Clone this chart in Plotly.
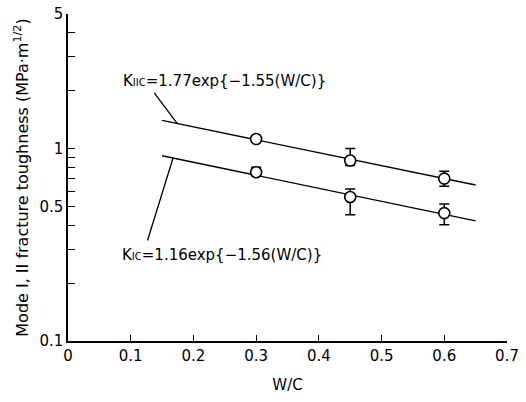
import plotly.graph_objects as go

# data
wc = [0.3, 0.45, 0.6]
k2c = [1.12, 0.866, 0.698]
k2c_plus = [0.0, 0.134, 0.064]
k2c_minus = [0.0, 0.05, 0.062]
k1c = [0.753, 0.560, 0.462]
k1c_plus = [0.047, 0.057, 0.053]
k1c_minus = [0.0, 0.107, 0.060]

fit_x = [0.15, 0.65]
fit_k2c = [1.40, 0.646]
fit_k1c = [0.917, 0.421]

x_ticks = [0, 0.1, 0.2, 0.3, 0.4, 0.5, 0.6, 0.7]
x_labels = ["0", "0.1", "0.2", "0.3", "0.4", "0.5", "0.6", "0.7"]
y_ticks = [0.1, 0.2, 0.3, 0.4, 0.5, 0.6, 0.7, 0.8, 0.9, 1, 2, 3, 4, 5]
y_labels = ["0.1", "", "", "", "0.5", "", "", "", "", "1", "", "", "", "5"]

FONT = "DejaVu Sans"
FS = 15

fig = go.Figure()
fig.add_trace(go.Scatter(x=fit_x, y=fit_k2c, mode="lines",
                         line=dict(color="black", width=1.4), showlegend=False))
fig.add_trace(go.Scatter(x=fit_x, y=fit_k1c, mode="lines",
                         line=dict(color="black", width=1.4), showlegend=False))
for y, yp, ym in [(k2c, k2c_plus, k2c_minus), (k1c, k1c_plus, k1c_minus)]:
    fig.add_trace(go.Scatter(
        x=wc, y=y, mode="markers", showlegend=False,
        marker=dict(symbol="circle", size=11, color="white",
                    line=dict(color="black", width=1.6)),
        error_y=dict(type="data", symmetric=False, array=yp, arrayminus=ym,
                     color="black", thickness=1.5, width=5),
    ))

small = "<span style='font-size:10px'>"
fig.add_annotation(x=0.249, y=0.349, xref="x", yref="y", showarrow=False,
                   text="K" + small + "IIC</span>=1.77exp{−1.55(W/C)}",
                   font=dict(family=FONT, size=FS, color="black"))
fig.add_annotation(x=0.2456, y=-0.552, xref="x", yref="y", showarrow=False,
                   text="K" + small + "IC</span>=1.16exp{−1.56(W/C)}",
                   font=dict(family=FONT, size=FS, color="black"))
# leader lines
fig.add_annotation(x=0.174, y=0.1307, xref="x", yref="y", text="", showarrow=True,
                   arrowhead=0, arrowwidth=1.3, arrowcolor="black", ax=-24, ay=-32)
fig.add_annotation(x=0.1675, y=-0.049, xref="x", yref="y", text="", showarrow=True,
                   arrowhead=0, arrowwidth=1.3, arrowcolor="black", ax=-26, ay=84)

fig.update_xaxes(range=[0, 0.7], tickvals=x_ticks, ticktext=x_labels, automargin=False,
                 ticks="inside", ticklen=6, tickwidth=1.3, tickcolor="black",
                 showline=True, linecolor="black", linewidth=1.5, showgrid=False,
                 zeroline=False, tickfont=dict(family=FONT, size=FS, color="black"),
                 title=dict(text="W/C", font=dict(family=FONT, size=FS, color="black"),
                            standoff=16))
fig.update_yaxes(type="log", range=[-1, 0.69897], tickvals=y_ticks, ticktext=y_labels,
                 automargin=False, ticklabeloverflow="allow",
                 ticks="inside", ticklen=7, tickwidth=1.3, tickcolor="black",
                 showline=True, linecolor="black", linewidth=1.5, showgrid=False,
                 zeroline=False, tickfont=dict(family=FONT, size=FS, color="black"),
                 title=dict(text="Mode I, II fracture toughness (MPa·m<sup>1/2</sup>)",
                            font=dict(family=FONT, size=16, color="black"), standoff=7))
fig.update_layout(width=526, height=402, margin=dict(l=68, r=19, t=14, b=61),
                  plot_bgcolor="white", paper_bgcolor="white",
                  font=dict(family=FONT, color="black"))
fig.write_html("out.html", config={"displayModeBar": False},
               post_script="document.body.style.margin='0';")
